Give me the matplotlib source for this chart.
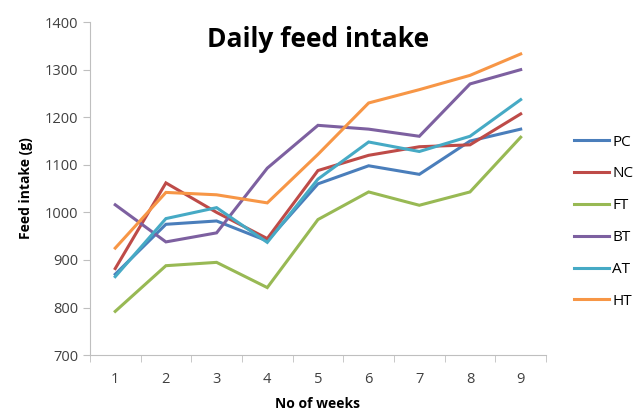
import matplotlib
matplotlib.use('Agg')
import matplotlib.pyplot as plt

weeks = [1, 2, 3, 4, 5, 6, 7, 8, 9]
pc = [870, 975, 982, 940, 1060, 1098, 1080, 1150, 1175]
nc = [882, 1062, 1000, 945, 1088, 1120, 1138, 1142, 1207]
ft = [792, 888, 895, 842, 985, 1043, 1015, 1043, 1158]
bt = [1016, 938, 957, 1093, 1183, 1175, 1160, 1270, 1300]
at = [865, 987, 1010, 937, 1070, 1148, 1128, 1160, 1237]
ht = [925, 1042, 1037, 1020, 1122, 1230, 1258, 1288, 1333]
series_names = ['PC', 'NC', 'FT', 'BT', 'AT', 'HT']

plt.rcParams['font.family'] = ['Open Sans', 'DejaVu Sans']

colours = ['#4A7EBB', '#BE4B48', '#98B954', '#7D60A0', '#46AAC5', '#F79646']
fig = plt.figure(figsize=(6.33, 4.12), dpi=100)
ax = fig.add_axes([0.142, 0.138, 0.7206, 0.8084])

for vals, name, c in zip([pc, nc, ft, bt, at, ht], series_names, colours):
    ax.plot(weeks, vals, color=c, lw=2.2, label=name, solid_joinstyle='miter')

ax.set_xlim(0.5, 9.5)
ax.set_ylim(700, 1400)
ax.set_yticks(range(700, 1401, 100))
ax.set_xticks(weeks)
ax.set_xticks([w - 0.5 for w in weeks] + [9.5], minor=True)
ax.tick_params(axis='x', which='major', length=0, pad=12, labelsize=10.5, colors='#404040')
ax.tick_params(axis='x', which='minor', length=5, color='#BFBFBF')
ax.tick_params(axis='y', length=5, color='#BFBFBF', labelsize=10.5, labelcolor='#404040')
for s in ['top', 'right']:
    ax.spines[s].set_visible(False)
for s in ['left', 'bottom']:
    ax.spines[s].set_color('#BFBFBF')

ax.set_xlabel('No of weeks', fontweight='bold', fontsize=10, labelpad=7)
ax.set_ylabel('Feed intake (g)', fontweight='bold', fontsize=10, labelpad=8)
fig.text(0.503, 0.903, 'Daily feed intake', ha='center', va='center', fontsize=19, fontweight='bold')

fig.legend(loc='center left', bbox_to_anchor=(0.895, 0.462), frameon=False, fontsize=11,
           handlelength=2.3, handletextpad=0.2, labelspacing=1.1, borderpad=0)

fig.savefig('out.png', dpi=100)
